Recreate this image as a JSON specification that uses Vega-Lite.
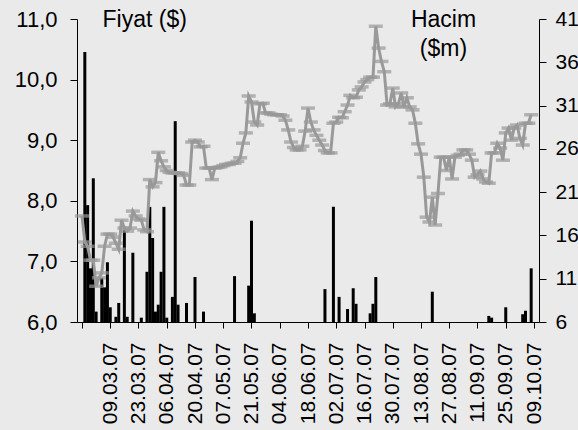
{
  "$schema": "https://vega.github.io/schema/vega-lite/v6.json",
  "width": 462,
  "height": 303,
  "autosize": {"type": "none"},
  "padding": {"left": 77, "right": 39, "top": 19, "bottom": 108},
  "background": "#EAEAEA",
  "config": {
    "view": {"stroke": null},
    "font": "Liberation Sans",
    "axis": {
      "domainColor": "#000000",
      "domainWidth": 1,
      "tickColor": "#000000",
      "tickWidth": 1,
      "labelColor": "#000000",
      "labelFont": "Liberation Sans",
      "labelFontSize": 21,
      "titleFont": "Liberation Sans",
      "titleFontSize": 23,
      "titleFontWeight": "normal",
      "titleColor": "#000000",
      "grid": false,
      "labelFlush": false,
      "labelOverlap": false,
      "labelBound": false
    }
  },
  "data": {
    "values": [
      {"d": 0, "p": 7.75},
      {"d": 1, "p": 7.32, "v": 37.2},
      {"d": 2, "p": 7.25, "v": 19.5},
      {"d": 3, "p": 7.02, "v": 12.2},
      {"d": 4, "p": 7.02, "v": 22.6},
      {"d": 5, "p": 6.59, "v": 7.2},
      {"d": 6, "p": 6.73},
      {"d": 7, "p": 6.81, "v": 11.1},
      {"d": 8, "p": 7.25, "v": 10.0},
      {"d": 9, "p": 7.45, "v": 12.9},
      {"d": 10, "p": 7.45, "v": 7.7},
      {"d": 11, "p": 7.4},
      {"d": 12, "p": 7.3, "v": 6.6},
      {"d": 13, "p": 7.2, "v": 8.2},
      {"d": 14, "p": 7.68},
      {"d": 15, "p": 7.55, "v": 16.6},
      {"d": 16, "p": 7.5, "v": 6.6},
      {"d": 17, "p": 7.55},
      {"d": 18, "p": 7.83, "v": 14.0},
      {"d": 19, "p": 7.75},
      {"d": 20, "p": 7.7},
      {"d": 21, "p": 7.68, "v": 6.5},
      {"d": 22, "p": 7.52},
      {"d": 23, "p": 7.49, "v": 11.8},
      {"d": 24, "p": 8.35, "v": 19.3},
      {"d": 25, "p": 8.23, "v": 15.7},
      {"d": 26, "p": 8.3, "v": 7.2},
      {"d": 27, "p": 8.8, "v": 8.0},
      {"d": 28, "p": 8.66, "v": 11.8},
      {"d": 29, "p": 8.56, "v": 19.3},
      {"d": 30, "p": 8.5, "v": 6.5},
      {"d": 31, "p": 8.47},
      {"d": 32, "p": 8.46, "v": 8.9},
      {"d": 33, "p": 8.46, "v": 29.2},
      {"d": 34, "p": 8.46, "v": 8.0},
      {"d": 35, "p": 8.45},
      {"d": 36, "p": 8.42},
      {"d": 37, "p": 8.26, "v": 8.2},
      {"d": 38, "p": 8.26},
      {"d": 39, "p": 8.97},
      {"d": 40, "p": 9.0, "v": 11.2},
      {"d": 41, "p": 8.97},
      {"d": 42, "p": 8.89},
      {"d": 43, "p": 8.9, "v": 7.2},
      {"d": 44, "p": 8.54},
      {"d": 45, "p": 8.54},
      {"d": 46, "p": 8.35},
      {"d": 47, "p": 8.54},
      {"d": 48, "p": 8.55},
      {"d": 49, "p": 8.56},
      {"d": 50, "p": 8.58},
      {"d": 51, "p": 8.6},
      {"d": 52, "p": 8.6},
      {"d": 53, "p": 8.62},
      {"d": 54, "p": 8.62, "v": 11.3},
      {"d": 55, "p": 8.65},
      {"d": 56, "p": 8.71},
      {"d": 57, "p": 8.95},
      {"d": 58, "p": 9.12},
      {"d": 59, "p": 9.73, "v": 10.2},
      {"d": 60, "p": 9.63, "v": 17.7},
      {"d": 61, "p": 9.3, "v": 7.0},
      {"d": 62, "p": 9.25},
      {"d": 63, "p": 9.6},
      {"d": 64, "p": 9.61},
      {"d": 65, "p": 9.45},
      {"d": 66, "p": 9.45},
      {"d": 67, "p": 9.43},
      {"d": 68, "p": 9.42},
      {"d": 69, "p": 9.42},
      {"d": 70, "p": 9.42},
      {"d": 71, "p": 9.4},
      {"d": 72, "p": 9.33},
      {"d": 73, "p": 9.17},
      {"d": 74, "p": 8.97},
      {"d": 75, "p": 8.88},
      {"d": 76, "p": 8.84},
      {"d": 77, "p": 8.84},
      {"d": 78, "p": 8.9},
      {"d": 79, "p": 9.15},
      {"d": 80, "p": 9.53},
      {"d": 81, "p": 9.3},
      {"d": 82, "p": 9.17},
      {"d": 83, "p": 9.08},
      {"d": 84, "p": 9.0},
      {"d": 85, "p": 8.92},
      {"d": 86, "p": 8.83, "v": 9.8},
      {"d": 87, "p": 8.79},
      {"d": 88, "p": 8.79},
      {"d": 89, "p": 9.28, "v": 19.3},
      {"d": 90, "p": 9.3},
      {"d": 91, "p": 9.38, "v": 8.9},
      {"d": 92, "p": 9.37},
      {"d": 93, "p": 9.47},
      {"d": 94, "p": 9.58, "v": 7.5},
      {"d": 95, "p": 9.74},
      {"d": 96, "p": 9.7, "v": 9.9},
      {"d": 97, "p": 9.71, "v": 8.1},
      {"d": 98, "p": 9.83},
      {"d": 99, "p": 9.88},
      {"d": 100, "p": 9.96},
      {"d": 101, "p": 10.0},
      {"d": 102, "p": 10.04, "v": 7.0},
      {"d": 103, "p": 10.04, "v": 8.1},
      {"d": 104, "p": 10.88, "v": 11.2},
      {"d": 105, "p": 10.52},
      {"d": 106, "p": 10.3},
      {"d": 107, "p": 10.13},
      {"d": 108, "p": 9.58},
      {"d": 109, "p": 9.6},
      {"d": 110, "p": 9.86},
      {"d": 111, "p": 9.55},
      {"d": 112, "p": 9.6},
      {"d": 113, "p": 9.78},
      {"d": 114, "p": 9.55},
      {"d": 115, "p": 9.7},
      {"d": 116, "p": 9.55},
      {"d": 117, "p": 9.5},
      {"d": 118, "p": 9.28},
      {"d": 119, "p": 8.94},
      {"d": 120, "p": 8.77},
      {"d": 121, "p": 8.39},
      {"d": 122, "p": 7.73},
      {"d": 123, "p": 7.65},
      {"d": 124, "p": 8.06, "v": 9.5},
      {"d": 125, "p": 7.6},
      {"d": 126, "p": 8.12},
      {"d": 127, "p": 8.72},
      {"d": 128, "p": 8.72},
      {"d": 129, "p": 8.5},
      {"d": 130, "p": 8.72},
      {"d": 131, "p": 8.36},
      {"d": 132, "p": 8.72},
      {"d": 133, "p": 8.75},
      {"d": 134, "p": 8.77},
      {"d": 135, "p": 8.84},
      {"d": 136, "p": 8.84},
      {"d": 137, "p": 8.77},
      {"d": 138, "p": 8.67},
      {"d": 139, "p": 8.39},
      {"d": 140, "p": 8.43},
      {"d": 141, "p": 8.49},
      {"d": 142, "p": 8.36},
      {"d": 143, "p": 8.31},
      {"d": 144, "p": 8.29, "v": 6.7},
      {"d": 145, "p": 8.79, "v": 6.5},
      {"d": 146, "p": 8.79},
      {"d": 147, "p": 8.95},
      {"d": 148, "p": 8.87},
      {"d": 149, "p": 8.67},
      {"d": 150, "p": 9.12, "v": 7.7},
      {"d": 151, "p": 9.2},
      {"d": 152, "p": 9.0},
      {"d": 153, "p": 9.2},
      {"d": 154, "p": 9.25},
      {"d": 155, "p": 9.03},
      {"d": 156, "p": 8.92, "v": 6.9},
      {"d": 157, "p": 9.28, "v": 7.3},
      {"d": 158, "p": 9.28},
      {"d": 159, "p": 9.42, "v": 12.2}
    ]
  },
  "encoding": {
    "x": {
      "field": "d",
      "type": "quantitative",
      "scale": {"domain": [0, 160], "nice": false, "zero": false},
      "axis": {
        "title": null,
        "values": [0, 10, 20, 30, 40, 50, 60, 70, 80, 90, 100, 110, 120, 130, 140, 150, 160],
        "labelExpr": "['', '09.03.07', '23.03.07', '06.04.07', '20.04.07', '07.05.07', '21.05.07', '04.06.07', '18.06.07', '02.07.07', '16.07.07', '30.07.07', '13.08.07', '27.08.07', '11.09.07', '25.09.07', '09.10.07'][round(datum.value / 10)]",
        "labelAngle": 270,
        "tickSize": 6,
        "labelPadding": 14
      }
    }
  },
  "layer": [
    {
      "mark": {"type": "bar", "color": "#000000", "size": 3, "orient": "vertical"},
      "encoding": {
        "y": {
          "field": "v",
          "type": "quantitative",
          "scale": {"domain": [6, 41], "nice": false, "zero": false},
          "axis": {
            "orient": "right",
            "values": [6, 11, 16, 21, 26, 31, 36, 41],
            "tickSize": 7,
            "labelPadding": 9,
            "title": ["Hacim", "($m)"],
            "titleAngle": 0,
            "titleAlign": "center",
            "titleBaseline": "alphabetic",
            "titleX": -96,
            "titleY": 7,
            "titleLineHeight": 29
          }
        },
        "y2": {"datum": 6}
      }
    },
    {
      "encoding": {
        "y": {
          "field": "p",
          "type": "quantitative",
          "scale": {"domain": [6, 11], "nice": false, "zero": false},
          "axis": {
            "orient": "left",
            "values": [6, 7, 8, 9, 10, 11],
            "labelExpr": "replace(format(datum.value, '.1f'), '.', ',')",
            "labelFontSize": 22,
            "tickSize": 7,
            "labelPadding": 13,
            "title": "Fiyat ($)",
            "titleAngle": 0,
            "titleAlign": "left",
            "titleBaseline": "alphabetic",
            "titleX": 25,
            "titleY": 7
          }
        }
      },
      "layer": [
        {"mark": {"type": "line", "color": "#999999", "strokeWidth": 3}},
        {"mark": {"type": "tick", "orient": "horizontal", "color": "#999999", "size": 14, "thickness": 3.5}}
      ]
    }
  ],
  "resolve": {"scale": {"y": "independent"}}
}
